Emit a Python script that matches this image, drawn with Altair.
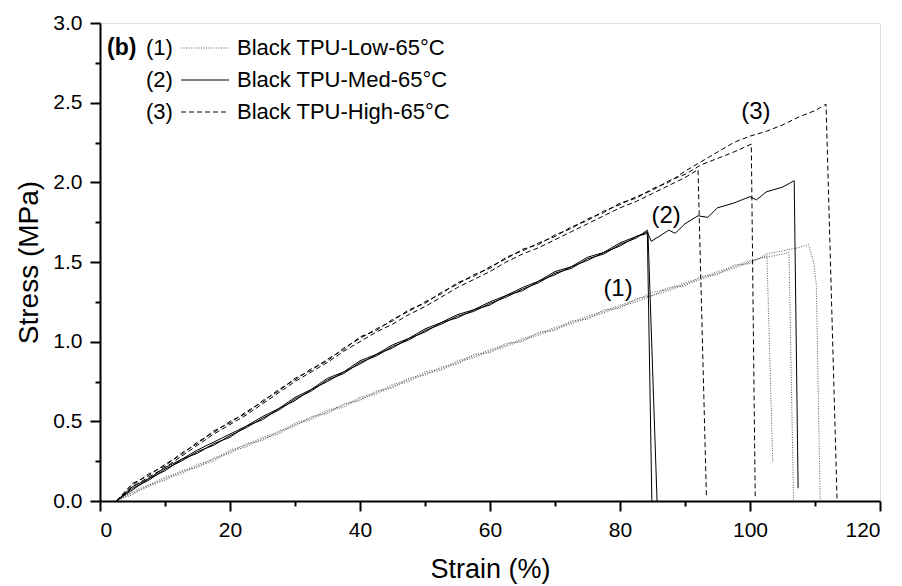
import altair as alt
import pandas as pd

# ---------------- data ----------------
grid_high = [2.5, 5, 7.5, 10, 12.5, 15, 17.5, 20, 22.5, 25, 27.5, 30, 32.5, 35, 37.5, 40,
             42.5, 45, 47.5, 50, 52.5, 55, 57.5, 60, 62.5, 65, 67.5, 70, 72.5, 75, 77.5, 80,
             82.5, 85, 87.5, 90]
h1_stress = [0.00, 0.09, 0.15, 0.21, 0.28, 0.35, 0.42, 0.48, 0.54, 0.61, 0.68, 0.75, 0.81, 0.87,
             0.94, 1.00, 1.06, 1.11, 1.17, 1.22, 1.28, 1.34, 1.39, 1.44, 1.50, 1.55, 1.59, 1.64,
             1.69, 1.74, 1.79, 1.84, 1.88, 1.93, 1.98, 2.03]
h1_tail_x = [92.0, 93.3]
h1_tail_y = [2.08, 0.02]
h2_stress = [0.00, 0.10, 0.17, 0.22, 0.30, 0.36, 0.44, 0.49, 0.56, 0.62, 0.70, 0.76, 0.83, 0.88,
             0.96, 1.02, 1.08, 1.13, 1.20, 1.24, 1.31, 1.36, 1.42, 1.46, 1.53, 1.57, 1.62, 1.66,
             1.72, 1.76, 1.82, 1.86, 1.91, 1.95, 2.01, 2.05]
h2_tail_x = [92.5, 95, 97.5, 100.2, 100.8]
h2_tail_y = [2.11, 2.15, 2.19, 2.24, 0.03]
h3_stress = [0.00, 0.11, 0.16, 0.23, 0.29, 0.37, 0.43, 0.50, 0.55, 0.63, 0.69, 0.77, 0.82, 0.89,
             0.95, 1.03, 1.07, 1.14, 1.19, 1.25, 1.30, 1.37, 1.41, 1.47, 1.52, 1.58, 1.61, 1.67,
             1.71, 1.77, 1.81, 1.87, 1.90, 1.96, 2.00, 2.07]
h3_tail_x = [92.5, 95, 97.5, 100, 102.5, 105, 107.5, 110, 111.7, 113.4]
h3_tail_y = [2.13, 2.19, 2.25, 2.29, 2.32, 2.36, 2.41, 2.45, 2.49, 0.00]

grid_med = [2.5, 5, 7.5, 10, 12.5, 15, 17.5, 20, 22.5, 25, 27.5, 30, 32.5, 35, 37.5, 40,
            42.5, 45, 47.5, 50, 52.5, 55, 57.5, 60, 62.5, 65, 67.5, 70, 72.5, 75, 77.5, 80, 82.5]
m1_stress = [0.00, 0.08, 0.13, 0.20, 0.25, 0.31, 0.35, 0.41, 0.46, 0.52, 0.57, 0.64, 0.69, 0.76,
             0.80, 0.87, 0.91, 0.97, 1.01, 1.07, 1.11, 1.16, 1.19, 1.24, 1.28, 1.33, 1.37, 1.43,
             1.46, 1.52, 1.55, 1.61, 1.65]
m1_tail_x = [84.2, 84.9]
m1_tail_y = [1.70, 0.00]
m2_stress = [0.00, 0.09, 0.14, 0.21, 0.26, 0.32, 0.37, 0.42, 0.47, 0.53, 0.58, 0.65, 0.70, 0.77,
             0.81, 0.88, 0.92, 0.98, 1.02, 1.08, 1.12, 1.17, 1.20, 1.25, 1.29, 1.34, 1.38, 1.44,
             1.47, 1.53, 1.56, 1.62, 1.66]
m2_tail_x = [84.3, 85.7]
m2_tail_y = [1.69, 0.00]
m3_stress = [0.00, 0.07, 0.14, 0.19, 0.26, 0.30, 0.36, 0.40, 0.47, 0.51, 0.58, 0.63, 0.70, 0.75,
             0.81, 0.86, 0.92, 0.96, 1.02, 1.06, 1.12, 1.15, 1.20, 1.23, 1.29, 1.32, 1.38, 1.42,
             1.47, 1.51, 1.56, 1.60, 1.66]
m3_tail_x = [84.3, 84.8, 86, 87.5, 88.5, 90, 92, 93.5, 95, 97.5, 100, 101, 102.5, 105, 106.8, 107.4]
m3_tail_y = [1.68, 1.63, 1.66, 1.70, 1.68, 1.74, 1.79, 1.78, 1.84, 1.87, 1.91, 1.89, 1.94, 1.97, 2.01, 0.08]

grid_low = [2.5, 5, 7.5, 10, 12.5, 15, 17.5, 20, 22.5, 25, 27.5, 30, 32.5, 35, 37.5, 40,
            42.5, 45, 47.5, 50, 52.5, 55, 57.5, 60, 62.5, 65, 67.5, 70, 72.5, 75, 77.5, 80,
            82.5, 85, 87.5, 90, 92.5, 95, 97.5, 100]
l1_stress = [0.00, 0.05, 0.09, 0.14, 0.17, 0.22, 0.25, 0.31, 0.34, 0.39, 0.42, 0.48, 0.51, 0.56,
             0.59, 0.64, 0.67, 0.72, 0.75, 0.80, 0.82, 0.87, 0.90, 0.94, 0.97, 1.01, 1.04, 1.08,
             1.11, 1.15, 1.18, 1.22, 1.25, 1.29, 1.32, 1.36, 1.39, 1.43, 1.46, 1.50]
l1_tail_x = [102.6, 103.5]
l1_tail_y = [1.54, 0.24]
l2_stress = [0.00, 0.06, 0.10, 0.15, 0.18, 0.23, 0.26, 0.32, 0.35, 0.40, 0.43, 0.49, 0.52, 0.57,
             0.60, 0.65, 0.68, 0.73, 0.76, 0.81, 0.83, 0.88, 0.91, 0.95, 0.98, 1.02, 1.05, 1.09,
             1.12, 1.16, 1.19, 1.23, 1.26, 1.31, 1.33, 1.37, 1.40, 1.44, 1.47, 1.51]
l2_tail_x = [102.5, 105, 106, 106.7]
l2_tail_y = [1.53, 1.55, 1.56, 0.00]
l3_stress = [0.00, 0.04, 0.10, 0.13, 0.19, 0.21, 0.27, 0.30, 0.36, 0.38, 0.44, 0.47, 0.53, 0.55,
             0.61, 0.63, 0.69, 0.71, 0.77, 0.79, 0.84, 0.86, 0.92, 0.93, 0.99, 1.00, 1.06, 1.07,
             1.13, 1.14, 1.20, 1.21, 1.27, 1.29, 1.34, 1.35, 1.41, 1.42, 1.48, 1.49]
l3_tail_x = [102.5, 105, 107.5, 109, 109.8, 110.2, 110.8]
l3_tail_y = [1.55, 1.57, 1.59, 1.61, 1.50, 1.36, 0.00]

legend_nums = ["(1)", "(2)", "(3)"]
legend_labels = ["Black TPU-Low-65°C", "Black TPU-Med-65°C", "Black TPU-High-65°C"]
ann_text = ["(1)", "(2)", "(3)"]
ann_strain = [79.7, 87.1, 100.9]
ann_stress = [1.33, 1.79, 2.44]

x_major = [0, 20, 40, 60, 80, 100, 120]
x_minor = [10, 30, 50, 70, 90, 110]
y_major = [0.0, 0.5, 1.0, 1.5, 2.0, 2.5, 3.0]
y_minor = [0.25, 0.75, 1.25, 1.75, 2.25, 2.75]

# ---------------- build table ----------------
specs = [
    ("Low", "L1", grid_low, l1_stress, l1_tail_x, l1_tail_y),
    ("Low", "L2", grid_low, l2_stress, l2_tail_x, l2_tail_y),
    ("Low", "L3", grid_low, l3_stress, l3_tail_x, l3_tail_y),
    ("Med", "M1", grid_med, m1_stress, m1_tail_x, m1_tail_y),
    ("Med", "M2", grid_med, m2_stress, m2_tail_x, m2_tail_y),
    ("Med", "M3", grid_med, m3_stress, m3_tail_x, m3_tail_y),
    ("High", "H1", grid_high, h1_stress, h1_tail_x, h1_tail_y),
    ("High", "H2", grid_high, h2_stress, h2_tail_x, h2_tail_y),
    ("High", "H3", grid_high, h3_stress, h3_tail_x, h3_tail_y),
]
rows = []
for grp, name, gx, gy, tx, ty in specs:
    xs = list(gx) + list(tx)
    ys = list(gy) + list(ty)
    for i, (a, b) in enumerate(zip(xs, ys)):
        rows.append({"group": grp, "spec": name, "strain": a, "stress": b, "order": i})
df = pd.DataFrame(rows)
ann = pd.DataFrame({"strain": ann_strain, "stress": ann_stress, "text": ann_text})

FONT = "Liberation Sans"
xscale = alt.Scale(domain=[0, 120], nice=False, zero=False)
yscale = alt.Scale(domain=[0, 3.0], nice=False, zero=False)

major_x_axis = alt.Axis(values=x_major, orient="bottom", tickSize=10, tickWidth=2, tickColor="black",
                        domainColor="black", domainWidth=2, labelFont=FONT, labelFontSize=21,
                        labelColor="black", labelPadding=8, title="Strain (%)", titleFont=FONT,
                        titleFontSize=27, titleFontWeight="normal", titleColor="black",
                        titlePadding=16, grid=False, format="d")
major_y_axis = alt.Axis(values=y_major, orient="left", tickSize=10, tickWidth=2, tickColor="black",
                        domainColor="black", domainWidth=2, labelFont=FONT, labelFontSize=21,
                        labelColor="black", labelPadding=8, title="Stress (MPa)", titleFont=FONT,
                        titleFontSize=28, titleFontWeight="normal", titleColor="black",
                        titlePadding=9, grid=False, format=".1f")
minor_x_axis = alt.Axis(values=x_minor, tickSize=5, tickWidth=2, tickColor="black", labels=False,
                        domain=False, title=None, grid=False, orient="bottom")
minor_y_axis = alt.Axis(values=y_minor, tickSize=5, tickWidth=2, tickColor="black", labels=False,
                        domain=False, title=None, grid=False, orient="left")

base = alt.Chart(df)

high = base.transform_filter(alt.datum.group == "High").mark_line(
    color="black", strokeWidth=1, strokeDash=[5, 3]
).encode(
    x=alt.X("strain:Q", scale=xscale, axis=major_x_axis),
    y=alt.Y("stress:Q", scale=yscale, axis=major_y_axis),
    detail="spec:N", order="order:Q",
)
med = base.transform_filter(alt.datum.group == "Med").mark_line(
    color="black", strokeWidth=1
).encode(
    x=alt.X("strain:Q", scale=xscale, axis=minor_x_axis),
    y=alt.Y("stress:Q", scale=yscale, axis=minor_y_axis),
    detail="spec:N", order="order:Q",
)
low = base.transform_filter(alt.datum.group == "Low").mark_line(
    color="#555555", strokeWidth=1, strokeDash=[1, 1.5]
).encode(
    x=alt.X("strain:Q", scale=xscale, axis=None),
    y=alt.Y("stress:Q", scale=yscale, axis=None),
    detail="spec:N", order="order:Q",
)
labels = alt.Chart(ann).mark_text(font=FONT, fontSize=24, color="black", align="center",
                                  baseline="middle").encode(
    x=alt.X("strain:Q", scale=xscale, axis=None),
    y=alt.Y("stress:Q", scale=yscale, axis=None),
    text="text:N",
)

one = pd.DataFrame({"k": [0]})
legend_layers = [
    alt.Chart(one).mark_text(text="(b)", font=FONT, fontSize=23, fontWeight="bold", color="black",
                             align="left", baseline="middle").encode(x=alt.value(7), y=alt.value(25))
]
row_y = [25, 57, 89]
dashes = [[1, 1.5], None, [5, 3]]
colors = ["#555555", "black", "black"]
for i in range(3):
    legend_layers.append(
        alt.Chart(one).mark_text(text=legend_nums[i], font=FONT, fontSize=22, color="black",
                                 align="left", baseline="middle").encode(
            x=alt.value(46), y=alt.value(row_y[i]))
    )
    kw = dict(color=colors[i], strokeWidth=1)
    if dashes[i] is not None:
        kw["strokeDash"] = dashes[i]
    legend_layers.append(
        alt.Chart(one).mark_rule(**kw).encode(
            x=alt.value(81), x2=alt.value(129), y=alt.value(row_y[i]))
    )
    legend_layers.append(
        alt.Chart(one).mark_text(text=legend_labels[i], font=FONT, fontSize=22, color="black",
                                 align="left", baseline="middle").encode(
            x=alt.value(137), y=alt.value(row_y[i]))
    )

chart = alt.layer(low, med, high, labels, *legend_layers).resolve_axis(
    x="independent", y="independent"
).properties(
    width=780, height=478,
    autosize=alt.AutoSizeParams(type="none"),
    padding={"left": 100, "top": 23, "right": 22, "bottom": 85},
).configure_view(stroke="black", strokeWidth=2).configure(background="white")

chart.save("out.html", embed_options={"renderer": "svg", "actions": False})
